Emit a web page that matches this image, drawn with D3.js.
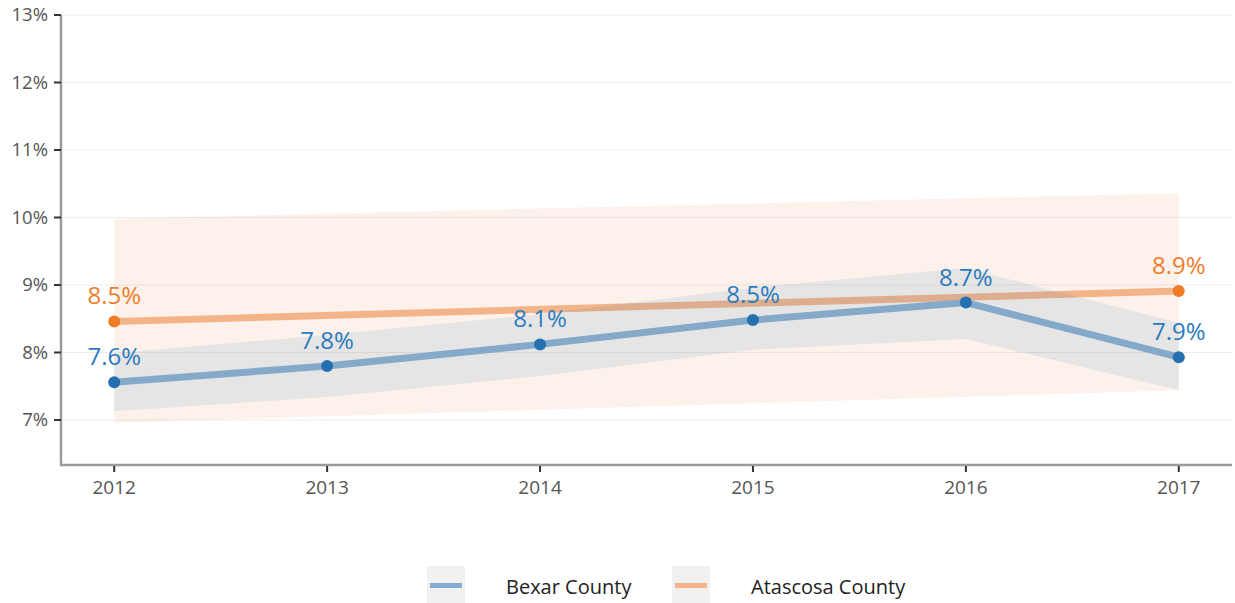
<!DOCTYPE html>
<html>
<head>
<meta charset="utf-8">
<script src="https://cdn.jsdelivr.net/npm/d3@7"></script>
<style>
  html, body { margin: 0; padding: 0; background: #fff; }
  svg { display: block; font-family: "Open Sans", "DejaVu Sans", sans-serif; }
</style>
</head>
<body>
<svg id="chart" width="1235" height="603"></svg>
<script>
// Rate by year, in percent
const years = [2012, 2013, 2014, 2015, 2016, 2017];

const bexarYears = [2012, 2013, 2014, 2015, 2016, 2017];
const bexarValues = [7.56, 7.80, 8.12, 8.48, 8.74, 7.93];
const bexarLow = [7.13, 7.34, 7.65, 8.04, 8.20, 7.44];
const bexarHigh = [7.99, 8.26, 8.57, 8.96, 9.25, 8.44];

const atascosaYears = [2012, 2017];
const atascosaValues = [8.46, 8.91];
const atascosaLow = [6.96, 7.44];
const atascosaHigh = [9.98, 10.36];

const yTicks = [7, 8, 9, 10, 11, 12, 13];
const yDomain = [6.333, 13];

const seriesNames = ["Bexar County", "Atascosa County"];

const svg = d3.select("#chart");
const plot = { left: 61, right: 1232, top: 15, bottom: 465 };

const x = d3.scalePoint().domain(years).range([plot.left, plot.right]).padding(0.25);
const y = d3.scaleLinear().domain(yDomain).range([plot.bottom, plot.top]);

const fmt = v => d3.format(".1f")(v) + "%";

// gridlines
svg.append("g")
  .selectAll("line")
  .data(yTicks)
  .join("line")
  .attr("x1", plot.left).attr("x2", plot.right)
  .attr("y1", d => y(d)).attr("y2", d => y(d))
  .attr("stroke", "#ececec").attr("stroke-width", 1);

const series = [
  {
    name: seriesNames[1],
    pts: atascosaYears.map((yr, i) => ({ yr, v: atascosaValues[i], lo: atascosaLow[i], hi: atascosaHigh[i] })),
    band: "rgba(240,125,60,0.1)", line: "#f4b48a", dot: "#ef7b24", label: "#ef7d2a"
  },
  {
    name: seriesNames[0],
    pts: bexarYears.map((yr, i) => ({ yr, v: bexarValues[i], lo: bexarLow[i], hi: bexarHigh[i] })),
    band: "rgba(31,119,180,0.1)", line: "#85a9c8", dot: "#2470b0", label: "#2a7bbd"
  }
];

const area = d3.area().x(d => x(d.yr)).y0(d => y(d.lo)).y1(d => y(d.hi));
const line = d3.line().x(d => x(d.yr)).y(d => y(d.v));

// bands and lines, drawn in stacking order
series.forEach(s => {
  svg.append("path").datum(s.pts).attr("d", area).attr("fill", s.band);
  svg.append("path").datum(s.pts).attr("d", line)
    .attr("fill", "none").attr("stroke", s.line).attr("stroke-width", 7)
    .attr("stroke-linejoin", "round");
});

// points and value labels
series.forEach(s => {
  svg.append("g").selectAll("circle").data(s.pts).join("circle")
    .attr("cx", d => x(d.yr)).attr("cy", d => y(d.v)).attr("r", 6)
    .attr("fill", s.dot);
  svg.append("g").selectAll("text").data(s.pts).join("text")
    .attr("x", d => x(d.yr)).attr("y", d => y(d.v) - 17)
    .attr("text-anchor", "middle")
    .attr("font-size", 24)
    .attr("fill", s.label)
    .text(d => fmt(d.v));
});

// axes
const yAxis = svg.append("g");
yAxis.append("line")
  .attr("x1", plot.left).attr("x2", plot.left)
  .attr("y1", plot.top).attr("y2", plot.bottom + 1)
  .attr("stroke", "#9a9a9a").attr("stroke-width", 2.5);
yAxis.selectAll("line.tick").data(yTicks).join("line").attr("class", "tick")
  .attr("x1", plot.left - 7).attr("x2", plot.left)
  .attr("y1", d => y(d)).attr("y2", d => y(d))
  .attr("stroke", "#333").attr("stroke-width", 2);
yAxis.selectAll("text").data(yTicks).join("text")
  .attr("x", plot.left - 13).attr("y", d => y(d)).attr("dy", "0.35em")
  .attr("text-anchor", "end").attr("font-size", 18.5).attr("fill", "#555")
  .text(d => d + "%");

const xAxis = svg.append("g");
xAxis.append("line")
  .attr("x1", plot.left - 1).attr("x2", plot.right)
  .attr("y1", plot.bottom).attr("y2", plot.bottom)
  .attr("stroke", "#9a9a9a").attr("stroke-width", 2.5);
xAxis.selectAll("line.tick").data(years).join("line").attr("class", "tick")
  .attr("x1", d => x(d)).attr("x2", d => x(d))
  .attr("y1", plot.bottom + 1).attr("y2", plot.bottom + 7)
  .attr("stroke", "#333").attr("stroke-width", 2);
xAxis.selectAll("text").data(years).join("text")
  .attr("x", d => x(d)).attr("y", 494)
  .attr("text-anchor", "middle").attr("font-size", 19).attr("fill", "#555")
  .text(d => d);

// legend
const legend = svg.append("g");
const legendItems = [
  { name: seriesNames[0], color: "#84abd0", x: 427 },
  { name: seriesNames[1], color: "#f2b48d", x: 672 }
];
legendItems.forEach(it => {
  legend.append("rect").attr("x", it.x).attr("y", 566).attr("width", 38).attr("height", 37)
    .attr("fill", "#f1f1f1");
  legend.append("rect").attr("x", it.x + 3).attr("y", 583).attr("width", 32).attr("height", 5)
    .attr("fill", it.color);
  legend.append("text").attr("x", it.x + 79).attr("y", 594)
    .attr("font-size", 20).attr("fill", "#222").text(it.name);
});
</script>
</body>
</html>
